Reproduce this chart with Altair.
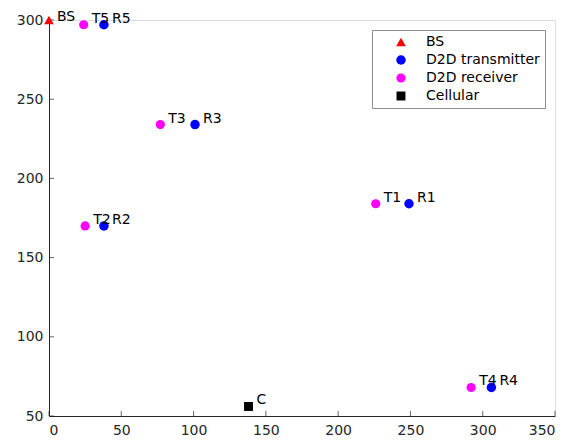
import altair as alt
import pandas as pd

# data
types = ["BS", "D2D transmitter", "D2D receiver", "Cellular"]
colors = ["#FF0000", "#0000FF", "#FF00FF", "#000000"]
shapes = ["triangle-up", "circle", "circle", "square"]
sizes = [95, 80, 80, 60]

pt_x = [0, 24, 38, 77, 101, 226, 249, 25, 38, 292, 306, 138]
pt_y = [300, 297, 297, 234, 234, 184, 184, 170, 170, 68, 68, 56]
pt_type = ["BS", "D2D receiver", "D2D transmitter", "D2D receiver", "D2D transmitter",
           "D2D receiver", "D2D transmitter", "D2D receiver", "D2D transmitter",
           "D2D receiver", "D2D transmitter", "Cellular"]
pt_label = ["BS", "T5", "R5", "T3", "R3", "T1", "R1", "T2", "R2", "T4", "R4", "C"]

x_ticks = [0, 50, 100, 150, 200, 250, 300, 350]
y_ticks = [50, 100, 150, 200, 250, 300]

df = pd.DataFrame({"x": pt_x, "y": pt_y, "type": pt_type, "label": pt_label})
xt = pd.DataFrame({"x": x_ticks})
yt = pd.DataFrame({"y": y_ticks})

xs = alt.Scale(domain=[0, 350], nice=False, zero=False)
ys = alt.Scale(domain=[50, 300], nice=False, zero=False)

axis_x = alt.Axis(values=x_ticks, title=None, grid=False, tickSize=0, labelPadding=7,
                  labelFontSize=14, labelColor="#262626", domainColor="#262626",
                  labelFont="DejaVu Sans")
axis_y = alt.Axis(values=y_ticks, title=None, grid=False, tickSize=0, labelPadding=6,
                  labelFontSize=14, labelColor="#262626", domainColor="#262626",
                  labelFont="DejaVu Sans")

points = alt.Chart(df).mark_point(filled=True, opacity=1, clip=False).encode(
    x=alt.X("x:Q", scale=xs, axis=axis_x),
    y=alt.Y("y:Q", scale=ys, axis=axis_y),
    color=alt.Color("type:N", scale=alt.Scale(domain=types, range=colors),
                    legend=alt.Legend(title=None, orient="none", legendX=323, legendY=10,
                                      strokeColor="#8c8c8c", fillColor="white", padding=5,
                                      symbolOffset=17, labelOffset=18, rowPadding=4,
                                      labelFontSize=14, labelFont="DejaVu Sans",
                                      labelColor="#000000", symbolSize=80,
                                      symbolStrokeWidth=0)),
    shape=alt.Shape("type:N", scale=alt.Scale(domain=types, range=shapes)),
    size=alt.Size("type:N", scale=alt.Scale(domain=types, range=sizes), legend=None),
)

labels = alt.Chart(df).transform_filter(alt.datum.label != "BS").mark_text(
    align="left", baseline="middle", dx=8, dy=-6,
    fontSize=14, font="DejaVu Sans", color="#000000", clip=False).encode(
    x=alt.X("x:Q", scale=xs), y=alt.Y("y:Q", scale=ys), text="label:N")

bs_label = alt.Chart(df).transform_filter(alt.datum.label == "BS").mark_text(
    align="left", baseline="middle", dx=8, dy=-3,
    fontSize=14, font="DejaVu Sans", color="#000000", clip=False).encode(
    x=alt.X("x:Q", scale=xs), y=alt.Y("y:Q", scale=ys), text="label:N")

xticks = alt.Chart(xt).mark_tick(orient="vertical", size=5, thickness=1, color="#262626",
                                 yOffset=-2.5).encode(
    x=alt.X("x:Q", scale=xs), y=alt.value(396))
yticks = alt.Chart(yt).mark_tick(orient="horizontal", size=5, thickness=1, color="#262626",
                                 xOffset=2.5).encode(
    y=alt.Y("y:Q", scale=ys), x=alt.value(0))

chart = alt.layer(xticks, yticks, points, labels, bs_label).properties(
    width=506, height=396,
    autosize=alt.AutoSizeParams(type="none"),
    padding={"left": 41, "top": 12, "right": 19, "bottom": 20},
).configure_view(stroke=None).configure(background="white")

chart.save("out.html", embed_options={"renderer": "svg", "actions": False})
